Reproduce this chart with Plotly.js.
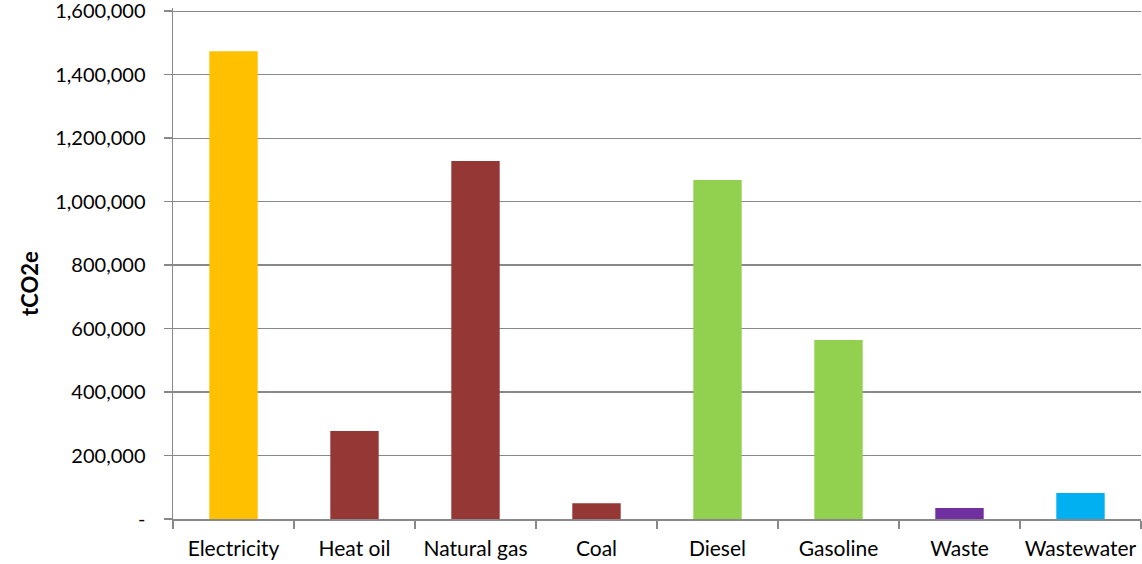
<!DOCTYPE html>
<html>
<head>
<meta charset="utf-8">
<script src="https://cdn.plot.ly/plotly-3.0.1.min.js"></script>
<style>html,body{margin:0;padding:0;background:#fff;}#chart{width:1142px;height:564px;}</style>
</head>
<body>
<div id="chart"></div>
<script>
const categories = ["Electricity", "Heat oil", "Natural gas", "Coal", "Diesel", "Gasoline", "Waste", "Wastewater"];
const emissions = [1474000, 277000, 1128000, 50000, 1068000, 564000, 35000, 82000];
const barColors = ["#FFC000", "#953735", "#953735", "#953735", "#92D050", "#92D050", "#7030A0", "#00B0F0"];
const yTickVals = [0, 200000, 400000, 600000, 800000, 1000000, 1200000, 1400000, 1600000];
const yTickText = ["-", "200,000", "400,000", "600,000", "800,000", "1,000,000", "1,200,000", "1,400,000", "1,600,000"];
const yTitle = "tCO2e";

const font = "Lato, 'Open Sans', 'Liberation Sans', sans-serif";

Plotly.newPlot("chart", [{
  type: "bar",
  x: categories,
  y: emissions,
  marker: {color: barColors},
  hoverinfo: "x+y"
}], {
  width: 1142, height: 564,
  margin: {l: 173, r: 1, t: 8, b: 45, pad: 0},
  paper_bgcolor: "#fff", plot_bgcolor: "#fff",
  bargap: 0.6,
  showlegend: false,
  font: {family: font, size: 20, color: "#000"},
  xaxis: {
    type: "category",
    showline: true, linecolor: "#888", linewidth: 1.5,
    ticks: "outside", tickson: "boundaries", ticklen: 8, tickcolor: "#888", tickwidth: 1.5,
    showgrid: false,
    tickangle: 0,
    tickfont: {family: font, size: 21, color: "#000"},
    ticklabelstandoff: 10,
    ticklabeloverflow: "allow"
  },
  yaxis: {
    range: [0, 1610000],
    tickvals: yTickVals, ticktext: yTickText,
    showline: true, linecolor: "#888", linewidth: 1.5,
    ticks: "outside", ticklen: 8, tickcolor: "#888", tickwidth: 1.5,
    showgrid: true, gridcolor: "#888", gridwidth: 1.2,
    zeroline: false,
    tickfont: {family: font, size: 20, color: "#000"},
    ticklabelstandoff: 14,
    ticklabeloverflow: "allow"
  },
  annotations: [{
    text: "<b>" + yTitle + "</b>",
    xref: "paper", yref: "paper",
    x: 0, y: 0.46, xanchor: "center", yanchor: "middle",
    xshift: -143, textangle: -90, showarrow: false,
    font: {family: font, size: 22, color: "#000"}
  }]
}, {displayModeBar: false, staticPlot: true});
</script>
</body>
</html>
